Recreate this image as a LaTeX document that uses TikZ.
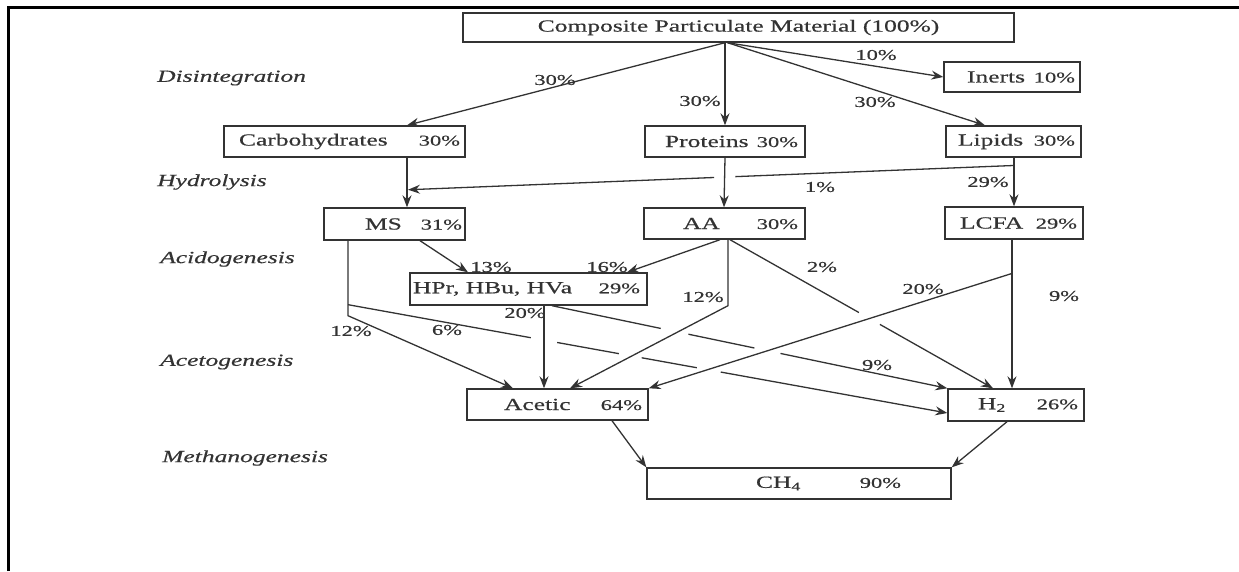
\documentclass[tikz,border=0pt]{standalone}
\usepackage{fontspec}
\setmainfont{Liberation Serif}[FakeStretch=1.5, FakeBold=0.5]
\usetikzlibrary{arrows.meta,calc}

\definecolor{ink}{HTML}{333333}
\newcommand\pcf{\fontsize{15}{18}\selectfont}
% box content: total width, left pad, name, share, right pad
\newcommand\boxtext[5]{\makebox[#1pt]{\hspace{#2pt}#3\hfill{\pcf #4}\hspace{#5pt}}}

\tikzset{
  box/.style={draw=ink, line width=1.4pt, inner sep=0pt, minimum height=31pt,
    text=ink, font=\fontsize{17}{20}\selectfont},
  conn/.style={draw=ink, line width=1.3pt},
  arr/.style={conn, -{Stealth[length=12pt,width=9pt,inset=4pt]}},
  pct/.style={text=ink, font=\pcf, inner sep=0pt},
  stage/.style={text=ink, font=\fontsize{17}{20}\selectfont\itshape, anchor=west, inner sep=0pt},
}

\begin{document}
\begin{tikzpicture}[x=1pt,y=-1pt]
\useasboundingbox (0,0) rectangle (1239,571);
% frame
\draw[black, line width=2.2pt] (8.5,571) -- (8.5,7.5) -- (1239,7.5);

% stage names
\node[stage] (sDis) at (157,78) {Disintegration};
\node[stage] (sHyd) at (157,182) {Hydrolysis};
\node[stage] (sAci) at (160,259) {Acidogenesis};
\node[stage] (sAce) at (160,362) {Acetogenesis};
\node[stage] (sMet) at (162,458) {Methanogenesis};

% compartments
\node[box, minimum height=29pt] (top) at (738.5,27.5) {\makebox[551pt]{Composite Particulate Material (100\%)}};
\node[box, minimum height=30pt] (inerts) at (1012,77) {\boxtext{136}{23}{Inerts}{10\%}{5}};
\node[box] (carb) at (344.5,141.5) {\boxtext{241}{15}{Carbohydrates}{30\%}{5}};
\node[box] (prot) at (725,141.5) {\boxtext{160}{20}{Proteins}{30\%}{7}};
\node[box] (lip) at (1013.5,141.5) {\boxtext{135}{12}{Lipids}{30\%}{6}};
\node[box, minimum height=32pt] (ms) at (394.5,224) {\boxtext{141}{41}{MS}{31\%}{3}};
\node[box] (aa) at (724.5,223.5) {\boxtext{161}{39}{AA}{30\%}{7}};
\node[box, minimum height=32pt] (lcfa) at (1014,223) {\boxtext{138}{15}{LCFA}{29\%}{6}};
\node[box, minimum height=32pt] (hpr) at (528.5,289) {\boxtext{237}{3}{HPr, HBu, HVa}{29\%}{7}};
\node[box] (acetic) at (557.5,404.5) {\boxtext{181}{37}{Acetic}{64\%}{6}};
\node[box, minimum height=32pt] (h2) at (1016,405) {\boxtext{136}{30}{H\textsubscript{2}}{26\%}{6}};
\node[box] (ch4) at (799,483.5) {\boxtext{304}{109}{CH\textsubscript{4}}{90\%}{50}};

% disintegration
\draw[arr] ([xshift=-13.5pt]top.south) -- ([xshift=62.5pt]carb.north);
\draw[arr] ([xshift=-13.5pt]top.south) -- (prot.north);
\draw[arr] ([xshift=-11pt]top.south) -- (inerts.west);
\draw[arr] ([xshift=-11pt]top.south) -- ([xshift=-28.5pt]lip.north);

% hydrolysis
\draw[arr] ([xshift=62.5pt]carb.south) -- coordinate[pos=0.647] (cmjoin) ([xshift=12.5pt]ms.north);
\draw[arr] (prot.south) -- ([xshift=-0.5pt]aa.north);
\draw[arr] ([xshift=0.5pt]lip.south) -- coordinate[pos=0.16] (lbranch) (lcfa.north);
\draw[conn] (lbranch) -- ($(lbranch)!0.459!(cmjoin)$);
\draw[arr, shorten >=1pt] ($(lbranch)!0.494!(cmjoin)$) -- (cmjoin);

% acidogenesis
\draw[arr] ([xshift=25.5pt]ms.south) -- ([xshift=-60.5pt]hpr.north);
\draw[arr] ([xshift=-4.5pt]aa.south) -- ([xshift=98.5pt]hpr.north);

% acetogenesis, drawn over
\draw[arr] ([xshift=-46.5pt]ms.south) -- coordinate[pos=0.853] (s6) ++(0,75) -- ([xshift=-44.5pt]acetic.north);
\draw[arr] ([xshift=3.5pt]aa.south) -- ++(0,66) -- ([xshift=12.5pt]acetic.north);
\draw[arr] ([xshift=15.5pt]hpr.south) -- ([xshift=-13.5pt]acetic.north);
\draw[arr] ([xshift=-2pt]lcfa.south) -- coordinate[pos=0.227] (lbranch2) ([xshift=-4pt]h2.north);
\draw[arr] (lbranch2) -- (acetic.north east);

% acetogenesis, passing under
\coordinate (e6) at ([yshift=-8pt]h2.west);
\draw[conn] (s6) -- ($(s6)!0.305!(e6)$);
\draw[conn] ($(s6)!0.349!(e6)$) -- ($(s6)!0.452!(e6)$);
\draw[conn] ($(s6)!0.490!(e6)$) -- ($(s6)!0.582!(e6)$);
\draw[arr] ($(s6)!0.622!(e6)$) -- (e6);

\coordinate (s9) at ([xshift=23.5pt]hpr.south);
\draw[conn] (s9) -- ($(s9)!0.275!(h2.north west)$);
\draw[conn] ($(s9)!0.345!(h2.north west)$) -- ($(s9)!0.512!(h2.north west)$);
\draw[arr] ($(s9)!0.578!(h2.north west)$) -- (h2.north west);

\coordinate (s2) at ([xshift=5.5pt]aa.south);
\coordinate (e2) at ([xshift=-23pt]h2.north);
\draw[conn] (s2) -- ($(s2)!0.49!(e2)$);
\draw[arr] ($(s2)!0.57!(e2)$) -- (e2);

% methanogenesis
\draw[arr] ([xshift=54.5pt]acetic.south) -- (ch4.north west);
\draw[arr] ([xshift=-9pt]h2.south) -- (ch4.north east);

% shares on the flows
\node[pct] (pCarb) at (555,80) {30\%};
\node[pct] (pProt) at (700,101) {30\%};
\node[pct] (pInert) at (876,55) {10\%};
\node[pct] (pLip) at (875,102) {30\%};
\node[pct] (pOne) at (820,187) {1\%};
\node[pct] (pLcfa) at (988,182) {29\%};
\node[pct] (pMsH) at (491,267) {13\%};
\node[pct] (pAaH) at (607,267) {16\%};
\node[pct] (pAaHy) at (822,267) {2\%};
\node[pct] (pAaAc) at (703,297) {12\%};
\node[pct] (pLcAc) at (923,289) {20\%};
\node[pct] (pLcHy) at (1064,296) {9\%};
\node[pct] (pMsAc) at (351,331) {12\%};
\node[pct] (pMsHy) at (447,330) {6\%};
\node[pct] (pHpAc) at (525,313) {20\%};
\node[pct] (pHpHy) at (877,365) {9\%};
\end{tikzpicture}
\end{document}
